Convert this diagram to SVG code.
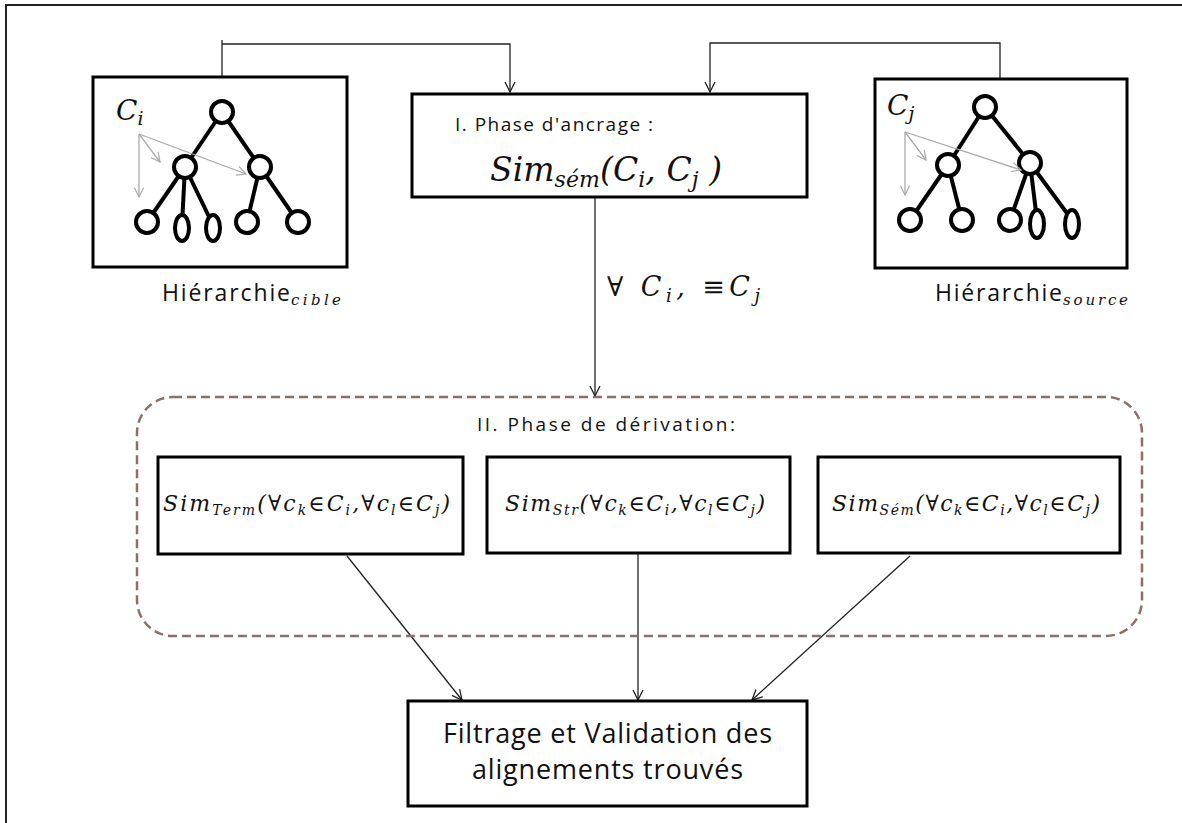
<svg xmlns="http://www.w3.org/2000/svg" width="1182" height="823" viewBox="0 0 1182 823">
<style>
.box{fill:#fff;stroke:#000;stroke-width:3}
.conn{fill:none;stroke:#222;stroke-width:1.3}
.tree{fill:none;stroke:#000;stroke-width:4}
.node{fill:#fff;stroke:#000;stroke-width:4}
.grey{fill:none;stroke:#aaa;stroke-width:1.3}
.sans{font-family:"Open Sans","Lato","Liberation Sans",sans-serif;fill:#111}
.math{font-family:"DejaVu Serif","Liberation Serif",serif;font-style:italic;fill:#111}
</style>
<defs>
<marker id="arr" viewBox="0 0 12 12" refX="11" refY="6" markerWidth="12" markerHeight="12" markerUnits="userSpaceOnUse" orient="auto">
<path d="M1,1 L11,6 L1,11" fill="none" stroke="#222" stroke-width="1.3"/>
</marker>
<marker id="garr" viewBox="0 0 12 12" refX="11" refY="6" markerWidth="11" markerHeight="11" markerUnits="userSpaceOnUse" orient="auto">
<path d="M1,1 L11,6 L1,11" fill="none" stroke="#aaa" stroke-width="1.3"/>
</marker>
</defs>
<rect width="1182" height="823" fill="#fff"/>
<path d="M6 823 V5 H1182" fill="none" stroke="#222" stroke-width="2"/>

<g id="connectors">
<path class="conn" d="M222 76 V40 M222 44 H510 V92" marker-end="url(#arr)"/>
<path class="conn" d="M1000 78 V43 H710 V92" marker-end="url(#arr)"/>
<path class="conn" d="M595 198 V396" marker-end="url(#arr)"/>
<path class="conn" d="M347 556 L462 700" marker-end="url(#arr)"/>
<path class="conn" d="M638 554 V700" marker-end="url(#arr)"/>
<path class="conn" d="M910 556 L752 700" marker-end="url(#arr)"/>
</g>

<g id="label-anchor">
<text class="math" x="607" y="296" font-size="27" textLength="153" lengthAdjust="spacing">∀ C<tspan font-size="18" dy="6">i</tspan><tspan dy="-6">, ≡C</tspan><tspan font-size="18" dy="6">j</tspan></text>
</g>

<g id="hier-cible">
<rect class="box" x="93" y="77" width="254" height="190"/>
<g class="tree">
<line x1="222" y1="112" x2="185" y2="167"/>
<line x1="222" y1="112" x2="260" y2="167"/>
<line x1="185" y1="167" x2="147" y2="222"/>
<line x1="185" y1="167" x2="182" y2="225"/>
<line x1="185" y1="167" x2="213" y2="225"/>
<line x1="260" y1="167" x2="247" y2="222"/>
<line x1="260" y1="167" x2="298" y2="222"/>
</g>
<circle class="node" cx="222" cy="112" r="11"/>
<circle class="node" cx="185" cy="167" r="11"/>
<circle class="node" cx="260" cy="167" r="11"/>
<circle class="node" cx="147" cy="222" r="11"/>
<ellipse class="node" cx="182" cy="228" rx="7" ry="13"/>
<ellipse class="node" cx="213" cy="228" rx="7" ry="13"/>
<circle class="node" cx="247" cy="222" r="11"/>
<circle class="node" cx="298" cy="222" r="11"/>
<path class="grey" d="M139 134 L160 162" marker-end="url(#garr)"/>
<path class="grey" d="M139 134 V197" marker-end="url(#garr)"/>
<path class="grey" d="M139 134 L246 174" marker-end="url(#garr)"/>
<text class="math" x="116" y="120" font-size="28">C<tspan font-size="19" dy="5">i</tspan></text>
<text class="sans" x="162" y="301" font-size="23" textLength="128" lengthAdjust="spacing">Hiérarchie</text>
<text class="math" x="291" y="305" font-size="15" textLength="50" lengthAdjust="spacing">cible</text>
</g>

<g id="hier-source">
<rect class="box" x="875" y="79" width="252" height="189"/>
<g class="tree">
<line x1="985" y1="107" x2="948" y2="165"/>
<line x1="985" y1="107" x2="1030" y2="163"/>
<line x1="948" y1="165" x2="910" y2="220"/>
<line x1="948" y1="165" x2="962" y2="220"/>
<line x1="1030" y1="163" x2="1010" y2="220"/>
<line x1="1030" y1="163" x2="1037" y2="220"/>
<line x1="1030" y1="163" x2="1072" y2="220"/>
</g>
<circle class="node" cx="985" cy="107" r="11"/>
<circle class="node" cx="948" cy="165" r="11"/>
<circle class="node" cx="1030" cy="163" r="11"/>
<circle class="node" cx="910" cy="220" r="11"/>
<circle class="node" cx="962" cy="220" r="11"/>
<circle class="node" cx="1010" cy="220" r="11"/>
<ellipse class="node" cx="1037" cy="224" rx="7" ry="14"/>
<ellipse class="node" cx="1072" cy="224" rx="7" ry="14"/>
<path class="grey" d="M905 132 L926 160" marker-end="url(#garr)"/>
<path class="grey" d="M905 132 V195" marker-end="url(#garr)"/>
<path class="grey" d="M905 132 L1021 170" marker-end="url(#garr)"/>
<text class="math" x="887" y="115" font-size="28">C<tspan font-size="19" dy="5">j</tspan></text>
<text class="sans" x="935" y="301" font-size="23" textLength="127" lengthAdjust="spacing">Hiérarchie</text>
<text class="math" x="1063" y="305" font-size="15" textLength="65" lengthAdjust="spacing">source</text>
</g>

<g id="phase-ancrage">
<rect class="box" x="412" y="94" width="395" height="103"/>
<text class="sans" x="455" y="131" font-size="19" textLength="198" lengthAdjust="spacing">I. Phase d'ancrage :</text>
<text class="math" x="490" y="181" font-size="33" textLength="232" lengthAdjust="spacing">Sim<tspan font-size="22" dy="6">sém</tspan><tspan dy="-6">(C</tspan><tspan font-size="22" dy="6">i</tspan><tspan dy="-6">, C</tspan><tspan font-size="22" dy="6">j</tspan><tspan dy="-6"> )</tspan></text>
</g>

<g id="phase-derivation">
<rect x="137" y="397" width="1005" height="239" rx="36" ry="36" fill="none" stroke="#8c7068" stroke-width="2.5" stroke-dasharray="9 5"/>
<text class="sans" x="477" y="431" font-size="19" textLength="258" lengthAdjust="spacing">II.  Phase de dérivation:</text>
</g>

<g id="sim-term">
<rect class="box" x="158" y="457" width="305" height="97"/>
<text class="math" x="163" y="511" font-size="22" textLength="287" lengthAdjust="spacing">Sim<tspan font-size="14" dy="4">Term</tspan><tspan dy="-4">(∀c</tspan><tspan font-size="14" dy="4">k</tspan><tspan dy="-4">∈C</tspan><tspan font-size="14" dy="4">i</tspan><tspan dy="-4">,∀c</tspan><tspan font-size="14" dy="4">l</tspan><tspan dy="-4">∈C</tspan><tspan font-size="14" dy="4">j</tspan><tspan dy="-4">)</tspan></text>
</g>

<g id="sim-str">
<rect class="box" x="487" y="457" width="303" height="96"/>
<text class="math" x="505" y="511" font-size="22" textLength="260" lengthAdjust="spacing">Sim<tspan font-size="14" dy="4">Str</tspan><tspan dy="-4">(∀c</tspan><tspan font-size="14" dy="4">k</tspan><tspan dy="-4">∈C</tspan><tspan font-size="14" dy="4">i</tspan><tspan dy="-4">,∀c</tspan><tspan font-size="14" dy="4">l</tspan><tspan dy="-4">∈C</tspan><tspan font-size="14" dy="4">j</tspan><tspan dy="-4">)</tspan></text>
</g>

<g id="sim-sem">
<rect class="box" x="818" y="457" width="302" height="96"/>
<text class="math" x="832" y="511" font-size="22" textLength="268" lengthAdjust="spacing">Sim<tspan font-size="14" dy="4">Sém</tspan><tspan dy="-4">(∀c</tspan><tspan font-size="14" dy="4">k</tspan><tspan dy="-4">∈C</tspan><tspan font-size="14" dy="4">i</tspan><tspan dy="-4">,∀c</tspan><tspan font-size="14" dy="4">l</tspan><tspan dy="-4">∈C</tspan><tspan font-size="14" dy="4">j</tspan><tspan dy="-4">)</tspan></text>
</g>

<g id="filtrage">
<rect class="box" x="408" y="701" width="399" height="105"/>
<text class="sans" x="443" y="743" font-size="27" textLength="329" lengthAdjust="spacing">Filtrage et Validation des</text>
<text class="sans" x="472" y="779" font-size="27" textLength="271" lengthAdjust="spacing">alignements trouvés</text>
</g>
</svg>
